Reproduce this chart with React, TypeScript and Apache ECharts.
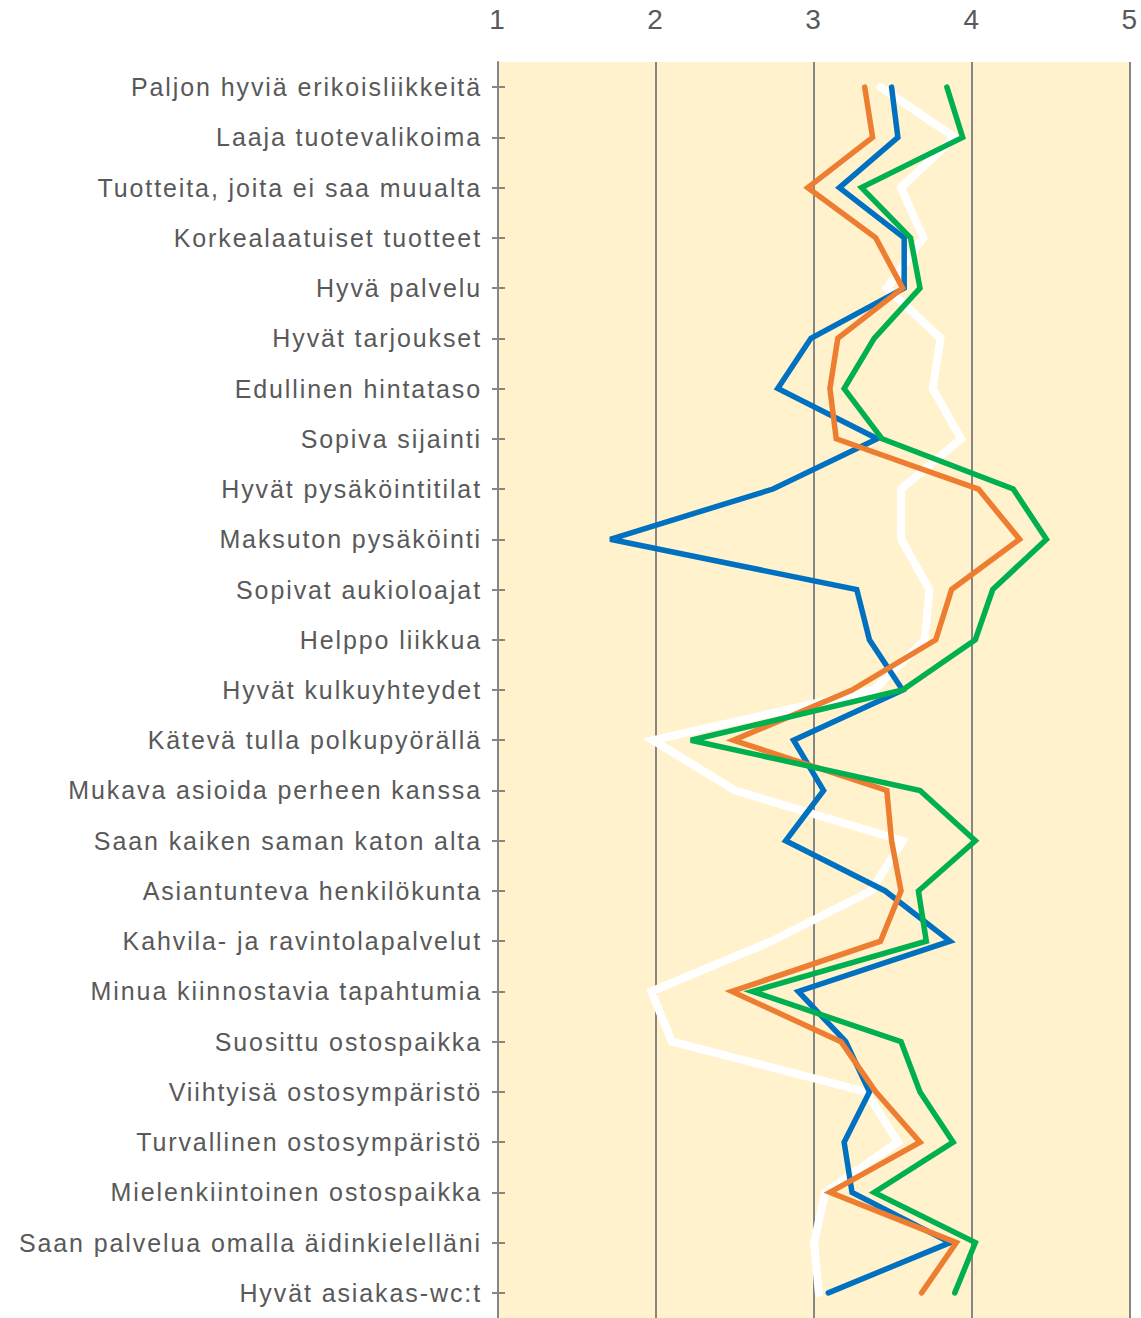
import React, { useEffect, useRef } from "react";
import * as echarts from "echarts";

const categories = [
  "Paljon hyviä erikoisliikkeitä",
  "Laaja tuotevalikoima",
  "Tuotteita, joita ei saa muualta",
  "Korkealaatuiset tuotteet",
  "Hyvä palvelu",
  "Hyvät tarjoukset",
  "Edullinen hintataso",
  "Sopiva sijainti",
  "Hyvät pysäköintitilat",
  "Maksuton pysäköinti",
  "Sopivat aukioloajat",
  "Helppo liikkua",
  "Hyvät kulkuyhteydet",
  "Kätevä tulla polkupyörällä",
  "Mukava asioida perheen kanssa",
  "Saan kaiken saman katon alta",
  "Asiantunteva henkilökunta",
  "Kahvila- ja ravintolapalvelut",
  "Minua kiinnostavia tapahtumia",
  "Suosittu ostospaikka",
  "Viihtyisä ostosympäristö",
  "Turvallinen ostosympäristö",
  "Mielenkiintoinen ostospaikka",
  "Saan palvelua omalla äidinkielelläni",
  "Hyvät asiakas-wc:t",
];

const xTicks = [1, 2, 3, 4, 5];

const whiteSeries = [3.42, 3.89, 3.55, 3.69, 3.46, 3.8, 3.75, 3.93, 3.55, 3.55, 3.73, 3.7, 3.38, 1.98, 2.5, 3.56, 3.36, 2.73, 1.97, 2.1, 3.33, 3.53, 3.07, 3.0, 3.03];
const blueSeries = [3.49, 3.53, 3.16, 3.57, 3.57, 2.98, 2.77, 3.4, 2.74, 1.71, 3.27, 3.35, 3.56, 2.87, 3.06, 2.82, 3.45, 3.86, 2.9, 3.2, 3.35, 3.19, 3.24, 3.86, 3.09];
const orangeSeries = [3.32, 3.37, 2.96, 3.39, 3.56, 3.15, 3.1, 3.14, 4.04, 4.3, 3.87, 3.77, 3.24, 2.49, 3.46, 3.49, 3.55, 3.42, 2.48, 3.17, 3.39, 3.67, 3.1, 3.9, 3.68];
const greenSeries = [3.84, 3.94, 3.3, 3.61, 3.67, 3.38, 3.19, 3.43, 4.26, 4.47, 4.13, 4.02, 3.56, 2.22, 3.67, 4.02, 3.66, 3.71, 2.61, 3.55, 3.67, 3.88, 3.38, 4.02, 3.89];

const FONT = "'Liberation Sans', Arial, sans-serif";
const GRID_GRAY = "#868686";
const TEXT_GRAY = "#595959";

export default function App() {
  const ref = useRef<HTMLDivElement>(null);

  useEffect(() => {
    if (!ref.current) return;
    const chart = echarts.init(ref.current, undefined, { renderer: "svg" });
    const mk = (name: string, data: number[], color: string, width: number) => ({
      name,
      type: "line",
      data,
      yAxisIndex: 0,
      symbol: "none",
      lineStyle: { color, width, cap: "round", join: "miter" },
      emphasis: { disabled: true },
    });
    chart.setOption({
      animation: false,
      backgroundColor: "#ffffff",
      grid: {
        left: 498,
        right: 8,
        top: 62,
        height: 1259,
        show: true,
        backgroundColor: "#FFF2CC",
        borderWidth: 0,
      },
      xAxis: {
        type: "value",
        position: "top",
        min: xTicks[0],
        max: xTicks[xTicks.length - 1],
        interval: 1,
        axisLine: { show: false },
        axisTick: { show: false },
        axisLabel: { fontSize: 28, color: TEXT_GRAY, fontFamily: FONT, margin: 29 },
        splitLine: { show: true, lineStyle: { color: GRID_GRAY, width: 2 } },
      },
      yAxis: [
        {
          type: "category",
          data: categories,
          inverse: true,
          position: "left",
          axisLine: { show: true, onZero: false, lineStyle: { color: GRID_GRAY, width: 2 } },
          axisTick: { show: true, alignWithLabel: true, length: 6, lineStyle: { color: GRID_GRAY, width: 2 } },
          axisLabel: { fontSize: 25, color: TEXT_GRAY, fontFamily: FONT, margin: 16 },
          splitLine: { show: false },
        },
        {
          type: "category",
          data: categories,
          inverse: true,
          position: "left",
          axisLine: { show: false, onZero: false },
          axisTick: { show: true, inside: true, alignWithLabel: true, length: 7, lineStyle: { color: GRID_GRAY, width: 2 } },
          axisLabel: { show: false },
          splitLine: { show: false },
        },
      ],
      series: [
        mk("Sarja 1", whiteSeries, "#FFFFFF", 8),
        mk("Sarja 2", blueSeries, "#0070C0", 5.5),
        mk("Sarja 3", orangeSeries, "#ED7D31", 5.5),
        mk("Sarja 4", greenSeries, "#00B050", 5.5),
      ],
    });
    return () => chart.dispose();
  }, []);

  return (
    <>
      <style>{"#chart-root svg text { letter-spacing: 1.9px; }"}</style>
      <div
        id="chart-root"
        ref={ref}
        style={{ position: "fixed", left: 0, top: 0, width: 1141, height: 1318 }}
      />
    </>
  );
}
